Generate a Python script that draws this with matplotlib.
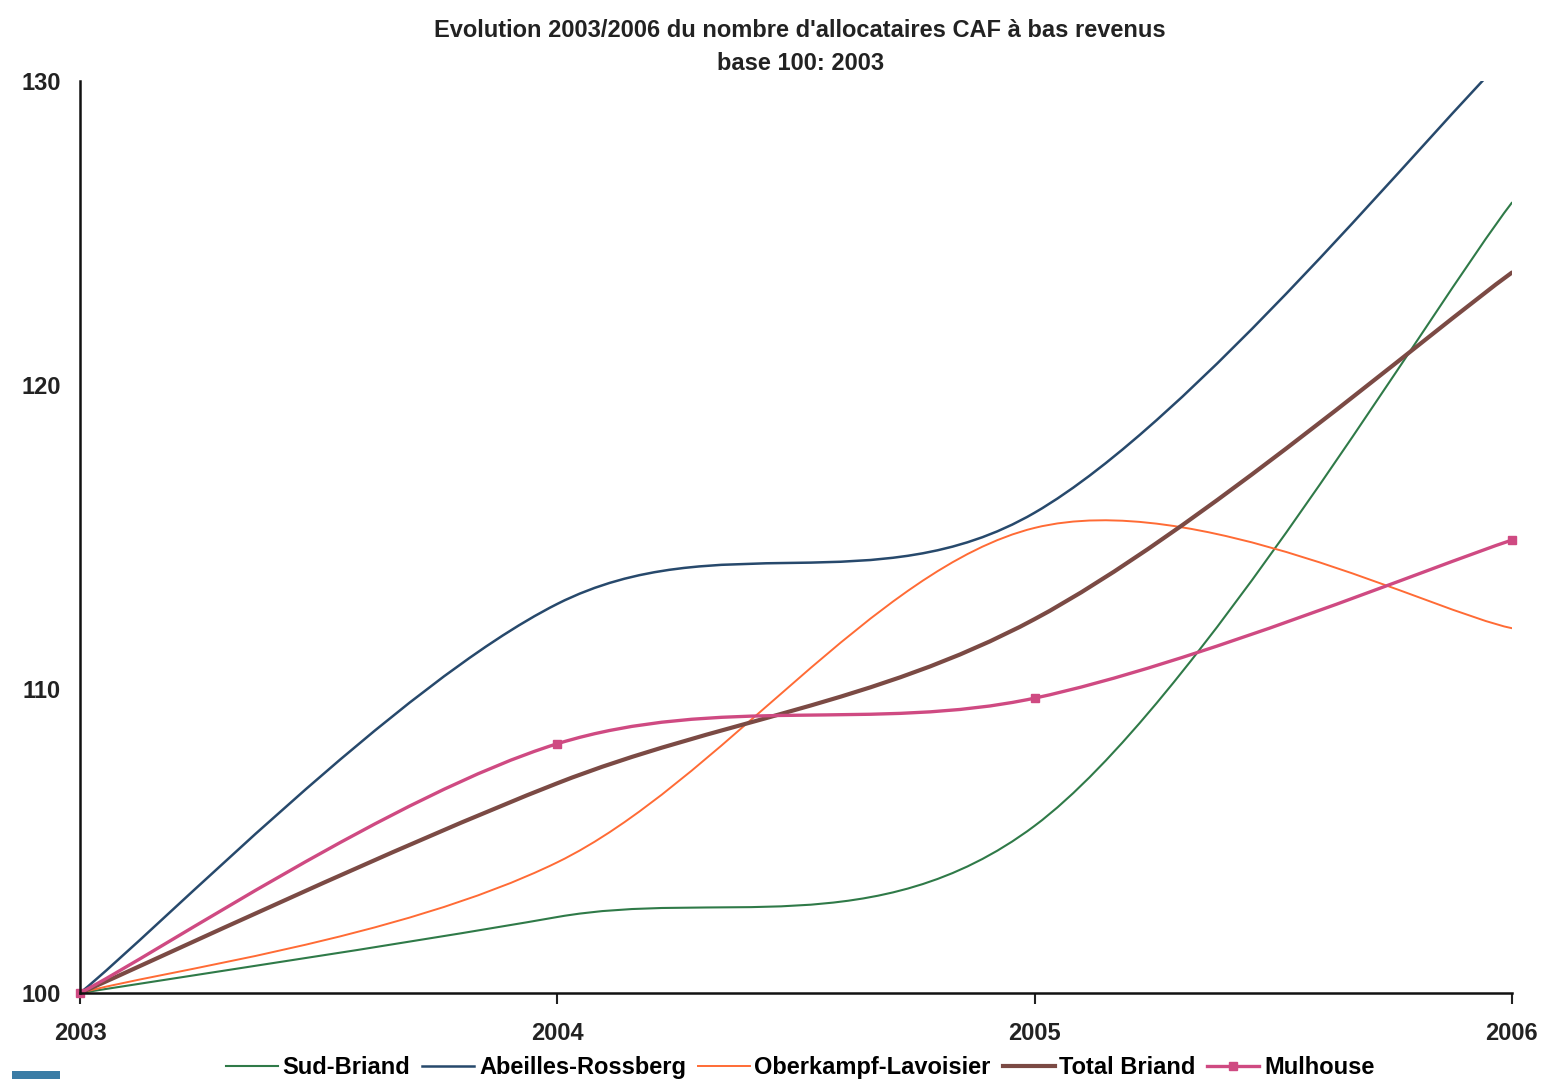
import numpy as np
import matplotlib
matplotlib.use("Agg")
import matplotlib.pyplot as plt
from matplotlib.path import Path
from matplotlib.patches import PathPatch, Rectangle
from matplotlib.lines import Line2D

plt.rcParams['font.family'] = ['Liberation Sans', 'DejaVu Sans']
plt.rcParams['font.weight'] = 'bold'

annees = [2003, 2004, 2005, 2006]
sud_briand = [100, 102.5, 105.5, 126.0]
abeilles = [100, 112.8, 115.8, 131.0]
oberkampf = [100, 104.3, 115.3, 112.0]
total_briand = [100, 106.9, 112.3, 123.7]
mulhouse = [100, 108.2, 109.7, 114.9]

noms = ["Sud-Briand", "Abeilles-Rossberg", "Oberkampf-Lavoisier", "Total Briand", "Mulhouse"]
series = [sud_briand, abeilles, oberkampf, total_briand, mulhouse]
couleurs = ["#2f7a48", "#27496c", "#ff6b35", "#7b4a44", "#cf4a82"]
epaisseurs = [1.5, 1.8, 1.4, 3.0, 2.4]


# courbe lissée facon tableur : segments de Bezier cubiques
def chemin_lisse(x, y):
    p = np.column_stack([x, y]).astype(float)
    n = len(p)
    verts = [p[0]]
    codes = [Path.MOVETO]
    for i in range(n - 1):
        p0 = p[i - 1] if i > 0 else p[i]
        p3 = p[i + 2] if i + 2 < n else p[i + 1]
        c1 = p[i] + (p[i + 1] - p0) / 6.0
        c2 = p[i + 1] - (p3 - p[i]) / 6.0
        verts += [c1, c2, p[i + 1]]
        codes += [Path.CURVE4] * 3
    return Path(verts, codes)


fig = plt.figure(figsize=(15.42, 10.79), dpi=100)
ax = fig.add_axes([0.0519, 0.0797, 0.9286, 0.8452])

handles = []
for nom, vals, c, lw in zip(noms, series, couleurs, epaisseurs):
    patch = PathPatch(chemin_lisse(annees, vals), facecolor='none', edgecolor=c,
                      lw=lw, capstyle='round', joinstyle='round')
    ax.add_patch(patch)
    if nom == "Mulhouse":
        ax.plot(annees, vals, 's', color=c, ms=6, clip_on=False)
        handles.append(Line2D([], [], color=c, lw=lw, marker='s', ms=6))
    else:
        handles.append(Line2D([], [], color=c, lw=lw))

ax.set_xlim(2003, 2006)
ax.set_ylim(100, 130)
ax.set_xticks(annees)
ax.set_xticklabels([str(a) for a in annees])
ax.set_yticks([100, 110, 120, 130])
for s in ['top', 'right']:
    ax.spines[s].set_visible(False)
for s in ['left', 'bottom']:
    ax.spines[s].set_linewidth(1.8)
    ax.spines[s].set_color('#111111')
ax.tick_params(axis='x', direction='out', length=8, width=1.5, pad=13,
               labelsize=17, colors='#222222')
ax.tick_params(axis='y', length=0, pad=14, labelsize=17, colors='#222222')
for lab in ax.get_xticklabels() + ax.get_yticklabels():
    lab.set_fontweight('bold')

fig.text(0.519, 0.982, "Evolution 2003/2006 du nombre d'allocataires CAF à bas revenus\nbase 100: 2003",
         ha='center', va='top', fontsize=17, fontweight='bold', color='#222222',
         linespacing=1.55)

fig.legend(handles, noms, loc='lower center', bbox_to_anchor=(0.519, -0.02), ncol=5,
           frameon=False, handlelength=2.2, handletextpad=0.2,
           columnspacing=0.5, prop={'weight': 'bold', 'size': 17})

fig.patches.append(Rectangle((0.008, 0.0), 0.031, 0.007, transform=fig.transFigure,
                             facecolor='#3a7ca5', edgecolor='none'))

fig.savefig("out.png", dpi=100, facecolor='white')
